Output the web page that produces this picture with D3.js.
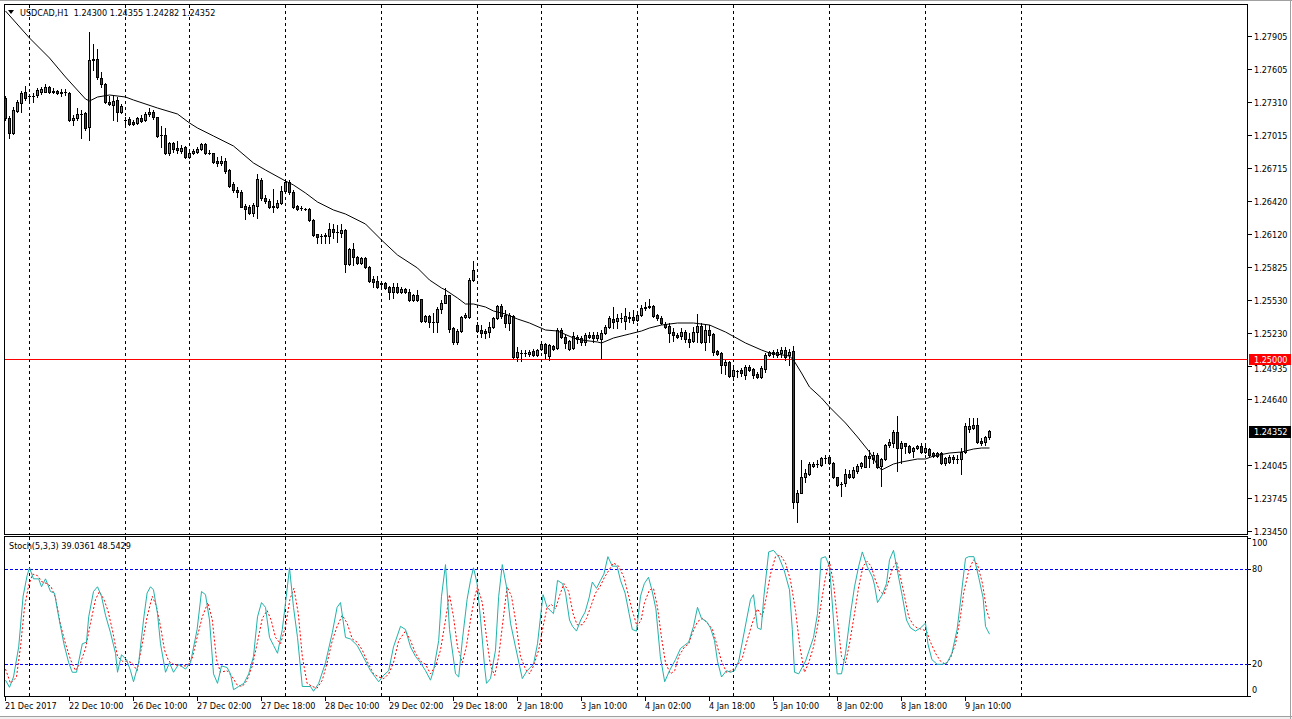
<!DOCTYPE html>
<html><head><meta charset="utf-8">
<script src="https://cdn.jsdelivr.net/npm/d3@7"></script>
<style>
html,body{margin:0;padding:0;background:#fff;overflow:hidden}
svg{display:block}
text{font-family:"DejaVu Sans Condensed","DejaVu Sans",sans-serif;font-stretch:condensed;font-size:9px;fill:#000}
</style></head><body>
<svg id="c" width="1292" height="719"></svg>
<script>
const open=[1.27347,1.27167,1.27032,1.27230,1.27302,1.27401,1.27365,1.27365,1.27374,1.27401,
1.27401,1.27446,1.27410,1.27410,1.27392,1.27401,1.27392,1.27149,1.27167,1.27203,
1.27212,1.27086,1.27689,1.27698,1.27527,1.27473,1.27311,1.27284,1.27329,1.27221,
1.27149,1.27158,1.27131,1.27122,1.27167,1.27149,1.27203,1.27221,1.27176,1.27014,
1.27014,1.26852,1.26942,1.26897,1.26870,1.26906,1.26816,1.26852,1.26861,1.26888,
1.26933,1.26852,1.26852,1.26780,1.26762,1.26780,1.26699,1.26573,1.26519,1.26501,
1.26375,1.26366,1.26312,1.26375,1.26609,1.26447,1.26420,1.26366,1.26366,1.26402,
1.26510,1.26591,1.26501,1.26375,1.26357,1.26348,1.26348,1.26249,1.26123,1.26105,
1.26114,1.26105,1.26168,1.26141,1.26132,1.26159,1.25853,1.25988,1.25916,1.25862,
1.25907,1.25826,1.25718,1.25700,1.25682,1.25682,1.25646,1.25601,1.25646,1.25601,
1.25628,1.25601,1.25529,1.25574,1.25538,1.25340,1.25385,1.25331,1.25331,1.25448,
1.25502,1.25574,1.25277,1.25151,1.25250,1.25376,1.25376,1.25709,1.25304,1.25259,
1.25250,1.25241,1.25286,1.25367,1.25475,1.25394,1.25322,1.25385,1.25016,1.25052,
1.25052,1.25043,1.25070,1.25034,1.25088,1.25133,1.25025,1.25115,1.25097,1.25259,
1.25196,1.25088,1.25097,1.25196,1.25187,1.25151,1.25214,1.25214,1.25187,1.25178,
1.25232,1.25286,1.25358,1.25340,1.25367,1.25340,1.25376,1.25376,1.25349,1.25394,
1.25457,1.25466,1.25475,1.25394,1.25367,1.25313,1.25295,1.25241,1.25214,1.25205,
1.25241,1.25178,1.25160,1.25241,1.25295,1.25151,1.25259,1.25223,1.25070,1.25052,
1.24944,1.24971,1.24845,1.24890,1.24899,1.24854,1.24926,1.24908,1.24863,1.24836,
1.24908,1.25034,1.25043,1.25034,1.25052,1.25079,1.25034,1.25070,1.23711,1.23792,
1.23936,1.23963,1.24035,1.24053,1.24044,1.24107,1.24116,1.24062,1.23936,1.23873,
1.23882,1.23963,1.23936,1.23990,1.24035,1.24026,1.24125,1.24098,1.24134,1.24035,
1.24098,1.24224,1.24242,1.24341,1.24197,1.24242,1.24215,1.24170,1.24197,1.24215,
1.24161,1.24188,1.24152,1.24125,1.24152,1.24062,1.24071,1.24116,1.24098,1.24098,
1.24161,1.24368,1.24377,1.24404,1.24260,1.24251,1.24300];
const high=[1.27365,1.27185,1.27266,1.27329,1.27410,1.27455,1.27383,1.27392,1.27437,1.27446,
1.27473,1.27455,1.27437,1.27419,1.27428,1.27428,1.27401,1.27194,1.27257,1.27239,
1.27221,1.27941,1.27833,1.27788,1.27581,1.27482,1.27365,1.27365,1.27356,1.27293,
1.27176,1.27176,1.27149,1.27176,1.27194,1.27221,1.27257,1.27239,1.27176,1.27095,
1.27077,1.26951,1.26951,1.26960,1.26924,1.26915,1.26879,1.26888,1.26906,1.26942,
1.26942,1.26879,1.26852,1.26816,1.26825,1.26807,1.26708,1.26591,1.26546,1.26519,
1.26393,1.26384,1.26402,1.26663,1.26627,1.26474,1.26438,1.26528,1.26429,1.26555,
1.26609,1.26609,1.26519,1.26384,1.26375,1.26357,1.26357,1.26258,1.26123,1.26123,
1.26132,1.26222,1.26213,1.26204,1.26213,1.26168,1.25997,1.26042,1.25925,1.25916,
1.25916,1.25835,1.25745,1.25745,1.25691,1.25691,1.25655,1.25682,1.25682,1.25646,
1.25637,1.25628,1.25583,1.25619,1.25538,1.25394,1.25394,1.25412,1.25466,1.25529,
1.25637,1.25574,1.25286,1.25268,1.25385,1.25412,1.25727,1.25880,1.25331,1.25304,
1.25268,1.25331,1.25376,1.25484,1.25493,1.25439,1.25412,1.25394,1.25106,1.25079,
1.25079,1.25079,1.25088,1.25088,1.25151,1.25142,1.25133,1.25124,1.25277,1.25277,
1.25223,1.25169,1.25241,1.25214,1.25205,1.25232,1.25241,1.25241,1.25241,1.25259,
1.25304,1.25385,1.25466,1.25403,1.25412,1.25457,1.25421,1.25439,1.25421,1.25484,
1.25511,1.25538,1.25484,1.25403,1.25385,1.25331,1.25322,1.25277,1.25232,1.25277,
1.25259,1.25232,1.25286,1.25403,1.25322,1.25304,1.25304,1.25232,1.25079,1.25061,
1.24989,1.24980,1.24917,1.24899,1.24917,1.24944,1.24944,1.24917,1.24881,1.24935,
1.25052,1.25070,1.25079,1.25088,1.25106,1.25106,1.25088,1.25115,1.23819,1.24089,
1.24008,1.24071,1.24071,1.24089,1.24116,1.24134,1.24125,1.24071,1.23936,1.23891,
1.24008,1.23999,1.24026,1.24053,1.24071,1.24134,1.24179,1.24161,1.24152,1.24107,
1.24233,1.24278,1.24359,1.24485,1.24260,1.24242,1.24224,1.24206,1.24224,1.24242,
1.24224,1.24197,1.24161,1.24161,1.24161,1.24116,1.24134,1.24134,1.24134,1.24197,
1.24422,1.24467,1.24467,1.24467,1.24287,1.24305,1.24355];
const low=[1.27149,1.26987,1.27023,1.27221,1.27221,1.27329,1.27329,1.27311,1.27356,1.27383,
1.27401,1.27392,1.27392,1.27383,1.27365,1.27374,1.27140,1.27104,1.27149,1.26987,
1.27059,1.26969,1.27599,1.27518,1.27446,1.27302,1.27284,1.27149,1.27140,1.27212,
1.27095,1.27104,1.27104,1.27113,1.27131,1.27140,1.27185,1.27158,1.26996,1.26906,
1.26843,1.26834,1.26861,1.26852,1.26852,1.26807,1.26807,1.26843,1.26852,1.26879,
1.26843,1.26843,1.26762,1.26735,1.26744,1.26672,1.26546,1.26501,1.26456,1.26366,
1.26258,1.26303,1.26285,1.26267,1.26429,1.26402,1.26357,1.26321,1.26357,1.26393,
1.26492,1.26483,1.26357,1.26339,1.26339,1.26339,1.26240,1.26105,1.26042,1.26042,
1.26042,1.26042,1.26087,1.26051,1.26096,1.25781,1.25844,1.25844,1.25853,1.25853,
1.25817,1.25691,1.25646,1.25637,1.25655,1.25628,1.25538,1.25547,1.25592,1.25592,
1.25592,1.25520,1.25520,1.25520,1.25331,1.25331,1.25286,1.25241,1.25241,1.25412,
1.25502,1.25241,1.25133,1.25133,1.25241,1.25367,1.25367,1.25700,1.25241,1.25196,
1.25187,1.25196,1.25277,1.25358,1.25367,1.25286,1.25259,1.25007,1.24980,1.24980,
1.25025,1.25025,1.25025,1.25025,1.25079,1.25007,1.24989,1.25079,1.25088,1.25187,
1.25097,1.25079,1.25088,1.25142,1.25124,1.25124,1.25187,1.25151,1.25169,1.25007,
1.25223,1.25277,1.25277,1.25277,1.25331,1.25268,1.25331,1.25322,1.25340,1.25385,
1.25439,1.25457,1.25376,1.25349,1.25313,1.25277,1.25151,1.25160,1.25187,1.25178,
1.25151,1.25106,1.25151,1.25151,1.25142,1.25079,1.25151,1.25034,1.25034,1.24872,
1.24863,1.24836,1.24809,1.24836,1.24845,1.24818,1.24890,1.24827,1.24827,1.24827,
1.24881,1.25025,1.25016,1.25016,1.25016,1.24989,1.24944,1.23657,1.23531,1.23792,
1.23891,1.23954,1.24026,1.24026,1.24035,1.24062,1.24053,1.23927,1.23855,1.23765,
1.23855,1.23927,1.23927,1.23972,1.24017,1.24026,1.24026,1.24062,1.24017,1.23855,
1.24089,1.24206,1.24206,1.23990,1.24062,1.24152,1.24152,1.24116,1.24188,1.24152,
1.24152,1.24125,1.24116,1.24116,1.24053,1.24044,1.24062,1.24062,1.24062,1.23963,
1.24152,1.24341,1.24368,1.24242,1.24224,1.24224,1.24282];
const close=[1.27167,1.27032,1.27239,1.27311,1.27392,1.27347,1.27365,1.27365,1.27419,1.27428,
1.27446,1.27401,1.27401,1.27392,1.27401,1.27401,1.27149,1.27167,1.27203,1.27203,
1.27077,1.27689,1.27698,1.27536,1.27473,1.27311,1.27293,1.27320,1.27221,1.27275,
1.27149,1.27113,1.27113,1.27167,1.27140,1.27203,1.27221,1.27176,1.27005,1.27014,
1.26852,1.26942,1.26888,1.26879,1.26897,1.26816,1.26852,1.26870,1.26888,1.26933,
1.26852,1.26852,1.26771,1.26762,1.26780,1.26690,1.26555,1.26519,1.26501,1.26366,
1.26348,1.26312,1.26384,1.26618,1.26447,1.26420,1.26366,1.26375,1.26402,1.26510,
1.26591,1.26501,1.26366,1.26348,1.26357,1.26348,1.26249,1.26114,1.26096,1.26105,
1.26105,1.26168,1.26141,1.26141,1.26159,1.25853,1.25988,1.25916,1.25862,1.25907,
1.25826,1.25700,1.25691,1.25646,1.25673,1.25637,1.25601,1.25646,1.25601,1.25628,
1.25601,1.25529,1.25574,1.25529,1.25340,1.25385,1.25331,1.25331,1.25448,1.25502,
1.25574,1.25268,1.25151,1.25250,1.25376,1.25394,1.25709,1.25799,1.25250,1.25232,
1.25232,1.25286,1.25367,1.25475,1.25385,1.25322,1.25394,1.25016,1.25061,1.25052,
1.25052,1.25061,1.25034,1.25079,1.25133,1.25052,1.25124,1.25088,1.25259,1.25196,
1.25142,1.25160,1.25205,1.25178,1.25151,1.25214,1.25196,1.25187,1.25214,1.25232,
1.25286,1.25367,1.25331,1.25367,1.25367,1.25385,1.25367,1.25349,1.25394,1.25457,
1.25466,1.25475,1.25385,1.25367,1.25322,1.25286,1.25232,1.25214,1.25196,1.25241,
1.25178,1.25151,1.25241,1.25295,1.25151,1.25259,1.25214,1.25061,1.25043,1.24944,
1.24971,1.24845,1.24899,1.24890,1.24872,1.24926,1.24899,1.24854,1.24836,1.24917,
1.25034,1.25061,1.25061,1.25061,1.25079,1.25016,1.25061,1.23711,1.23792,1.23936,
1.23972,1.24053,1.24053,1.24053,1.24107,1.24107,1.24062,1.23936,1.23864,1.23873,
1.23963,1.23936,1.23999,1.24035,1.24062,1.24125,1.24107,1.24134,1.24026,1.24098,
1.24224,1.24251,1.24341,1.24197,1.24242,1.24215,1.24161,1.24197,1.24215,1.24161,
1.24197,1.24134,1.24125,1.24152,1.24062,1.24107,1.24116,1.24098,1.24098,1.24161,
1.24395,1.24395,1.24404,1.24251,1.24242,1.24296,1.24352];

// moving average: [bar, value]
const maPoints=[[0,1.28130],[6,1.27887],[11,1.27707],[15,1.27536],[20,1.27338],[21,1.27320],[23,1.27356],[26,1.27374],[30,1.27356],[32,1.27329],[38,1.27257],[43,1.27203],[46,1.27122],[48,1.27077],[52,1.27005],[57,1.26915],[62,1.26762],[65,1.26699],[70,1.26600],[72,1.26564],[75,1.26492],[78,1.26411],[82,1.26339],[85,1.26303],[90,1.26213],[94,1.26069],[98,1.25934],[103,1.25817],[106,1.25709],[109,1.25637],[110,1.25619],[113,1.25547],[115,1.25493],[117,1.25493],[120,1.25466],[122,1.25430],[125,1.25403],[128,1.25358],[131,1.25322],[135,1.25259],[138,1.25250],[142,1.25187],[144,1.25169],[148,1.25151],[149,1.25142],[152,1.25187],[156,1.25223],[159,1.25250],[161,1.25277],[164,1.25304],[168,1.25322],[172,1.25322],[176,1.25304],[180,1.25241],[185,1.25142],[189,1.25079],[191,1.25052],[196,1.25025],[197,1.24989],[199,1.24872],[201,1.24746],[204,1.24647],[206,1.24566],[210,1.24422],[213,1.24296],[216,1.24161],[218,1.24044],[219,1.23999],[222,1.24053],[224,1.24071],[228,1.24098],[230,1.24098],[232,1.24125],[236,1.24152],[239,1.24161],[242,1.24188],[244,1.24197],[246,1.24197]];

// stochastic main (%K) and signal (%D): [bar, value]
const stochMain=[[0,10],[1,5.5],[2,12],[3.3,31],[4.4,63],[5.4,76],[6,81],[7,74],[8.3,74],[9,69],[10,74],[11.25,66],[12.25,65],[13.3,50],[14.6,33],[15.8,21],[16.7,15],[17.75,15],[19.2,33],[20.25,34],[20.8,50],[22,66],[23,69],[24,63],[25,51],[26.25,40],[27.5,27],[28,15],[29,26],[30.25,23],[31.25,16],[32,9],[33.3,21],[34.6,50],[35.4,65],[36.25,69],[37,67],[38,52],[38.75,33],[40,15],[41,21],[42,15],[43.3,20],[45,17],[46.25,21],[47.9,42],[49,66],[50,64],[51,48],[52,14],[53,8],[54,19],[55.4,18],[56.25,14],[57,4],[58.3,6],[59.6,8],[60.8,14],[62,25],[63,50],[64,59],[65,56],[66,37],[67,32],[68,27],[69.2,42],[70.2,63],[71,81],[72,56],[73,37],[74.2,6],[76.25,6],[77,3],[78.3,8],[80,21],[81.7,40],[82.9,56],[83.75,59],[85,37],[86.25,36],[87.9,32],[89.6,24],[91.25,16],[93.3,9],[94.5,13],[95.8,16],[97,31],[98.75,44],[100,42],[101.25,31],[102.5,25],[103.75,21],[105,16],[106.25,10],[107,16],[108.3,35],[109,63],[110,83],[111,42],[112.5,14],[113.3,12],[114.2,35],[115.4,61],[116.25,73],[117,81],[117.9,71],[118.75,49],[119.75,19],[120.25,8],[121.25,11],[122.5,29],[123.3,63],[124.2,83],[125.25,69],[126.25,46],[127.5,31],[129.2,11],[130.4,16],[132,20],[133,33],[133.75,50],[134.4,64],[135.4,56],[137,52],[138,73],[139.25,71],[140,65],[141,48],[141.75,44],[142.75,41],[143.8,48],[144.9,53],[145.9,62],[146.7,72],[147.75,68],[148.75,73],[149.6,77],[150.6,88],[151.7,82],[152.9,82],[153.75,73],[154.9,65],[155.9,52],[156.7,42],[157.75,41],[158.75,63],[159.7,71],[160.75,75],[161.6,67],[162.6,55],[163.7,25],[164.8,9],[166,16],[167.5,23],[168.75,30],[169.75,32],[170.8,34],[172,44],[173,56],[174,49],[175.25,47],[176.25,43],[177.25,35],[178,22],[179,12],[180.25,16],[181.25,15],[182.25,16],[183.3,22],[184.2,34],[185.25,48],[186.25,61],[187,64],[188,43],[188.9,42],[189.6,63],[190.8,91],[192,92],[193.3,88],[194.6,80],[196,67],[196.7,42],[197.25,15],[198.3,14],[200,22],[200.8,28],[202,37],[203,52],[203.9,87],[205,88],[206,82],[207,48],[207.9,14],[209,14],[210,27],[211.25,52],[212.25,69],[213.3,82],[214.2,91],[215.4,82],[216.75,75],[217.25,70],[218,59],[219.2,64],[220.25,71],[221,86],[222,92],[222.9,80],[224.2,63],[225.25,48],[226.25,43],[227.5,41],[228.75,43],[230,46],[230.6,33],[231.6,23],[232.9,20],[234.1,20],[235.4,21],[236.6,27],[237.9,42],[238.9,63],[240,87],[240.8,88],[242.1,88],[243.3,75],[244.4,62],[245,44],[246,39.04]];
const stochSignal=[[0,17],[1.25,8],[2.75,12],[3.75,31],[4.75,56],[5.8,70],[6.8,77],[8,76],[9.2,72],[10.4,71],[11.4,69],[12.5,62],[13.75,45],[15,33],[16.25,23],[17.5,16],[18.75,21],[20,30],[21.25,46],[22.5,61],[23.5,66],[24.6,61],[25.6,54],[26.7,42],[28,25],[29.2,22],[30.4,22],[31.6,21],[32.9,16],[34.2,33],[35.4,50],[36.7,63],[37.7,57],[38.75,44],[39.75,29],[40.8,22],[42,20],[43.75,19],[45.4,19],[46.7,24],[47.9,37],[49.2,50],[50.6,59],[51.7,48],[52.75,23],[53.75,15],[55.4,16],[56.7,12],[57.9,7],[59.2,6],[60.4,10],[61.7,19],[62.9,33],[64.2,49],[65.4,54],[66.4,48],[67.5,37],[68.75,33],[70,44],[71.1,61],[72.1,68],[73.2,52],[74.2,25],[75.4,8],[76.7,6],[77.9,5],[79.2,10],[80.4,21],[81.7,35],[82.9,44],[84.2,51],[85.4,46],[86.7,36],[87.9,34],[89.2,29],[90.4,22],[92,14],[93.3,12],[94.6,11],[95.8,14],[97,21],[98.3,35],[100,41],[101.25,35],[102.5,27],[103.75,22],[105,20],[106.25,14],[107.5,19],[108.75,29],[110,48],[111,64],[112,50],[113,31],[114.2,21],[115.2,31],[116.25,48],[117.25,62],[118,69],[119.2,59],[120.25,37],[121.25,19],[122.3,13],[123.3,25],[124.4,48],[125.4,69],[126.5,63],[127.5,48],[128.75,25],[130,17],[131,14],[132,19],[133.3,29],[134.4,44],[135.4,56],[136.4,58],[137.5,55],[138.6,64],[139.6,71],[140.8,66],[141.9,52],[142.9,45],[144.2,45],[145.25,49],[146.25,56],[147.5,65],[148.6,69],[149.75,75],[151,80],[152,84],[153.3,82],[154.6,75],[155.8,63],[156.8,53],[157.9,44],[158.9,48],[159.75,59],[161,67],[162,68],[163,56],[164,37],[165,21],[166.25,14],[167.3,16],[168.3,25],[169.75,31],[170.8,33],[171.75,40],[173,47],[174.3,49],[175.5,46],[176.75,42],[178,31],[179,22],[180.25,15],[181.5,16],[182.9,19],[184.2,24],[185.4,35],[186.7,46],[188,55],[189.2,50],[190.25,63],[191.25,77],[192.5,88],[193.75,89],[195,84],[196.25,73],[197.5,54],[198.6,31],[199.75,15],[200.8,21],[202,31],[203,44],[204.2,63],[205,75],[206,85],[207,71],[208,48],[209,25],[210,21],[211,33],[212.25,52],[213.3,69],[214.4,82],[215.4,85],[216.4,82],[217.5,73],[218.6,66],[219.6,64],[220.6,71],[221.7,80],[222.75,85],[223.75,75],[224.75,63],[225.8,50],[226.9,45],[227.9,43],[229.2,42],[230.25,41],[231.25,34],[232.5,27],[233.75,22],[235,20],[236.25,24],[237.5,33],[238.6,48],[239.6,66],[240.9,80],[242,86],[243,83],[244.25,71],[245.3,54],[246,48.54]];

const priceTickLabels=["1.27905","1.27605","1.27310","1.27015","1.26715","1.26420","1.26120","1.25825","1.25530","1.25230","1.24935","1.24640","1.24045","1.23745","1.23450"];
const stochLevels=[20,80];
const stochTickLabels=["100","80","20","0"];
const timeLabels=["21 Dec 2017","22 Dec 10:00","26 Dec 10:00","27 Dec 02:00","27 Dec 18:00","28 Dec 10:00","29 Dec 02:00","29 Dec 18:00","2 Jan 18:00","3 Jan 10:00","4 Jan 02:00","4 Jan 18:00","5 Jan 10:00","8 Jan 02:00","8 Jan 18:00","9 Jan 10:00"];
const timeLabelBars=[0,16,32,48,64,80,96,112,128,144,160,176,192,208,224,240];
const separatorBars=[6,30,46,70,94,118,134,158,182,206,230,254];
const levelLine=1.25000;
const title="USDCAD,H1  1.24300 1.24355 1.24282 1.24352";
const stochTitle="Stoch(5,3,3) 39.0361 48.5429";

// ---- layout ----
const L=4.5,R=1247.5,mTop=4.5,mBot=534.5,sTop=536.5,sBot=696.5;
const svg=d3.select("#c");
const x=d3.scaleLinear().domain([0,310.5]).range([5,1247]);
const y=d3.scaleLinear().domain([1.23423,1.28193]).range([534,4]);
const ys=d3.scaleLinear().domain([0,100]).range([696,537.67]);
const px=v=>Math.round(x(v));

// window chrome
svg.append("rect").attr("x",0).attr("y",0).attr("width",1292).attr("height",719).attr("fill","#fff");
svg.append("rect").attr("x",0).attr("y",716).attr("width",1292).attr("height",3).attr("fill","#f0f0f0");
svg.append("line").attr("x1",0).attr("x2",1292).attr("y1",716.5).attr("y2",716.5).attr("stroke","#a0a0a0");
svg.append("line").attr("x1",0).attr("x2",1292).attr("y1",0.5).attr("y2",0.5).attr("stroke","#a0a0a0");
svg.append("line").attr("x1",1290.5).attr("x2",1290.5).attr("y1",0).attr("y2",719).attr("stroke","#a0a0a0");

const main=svg.append("g").attr("shape-rendering","crispEdges");
// separators
const seps=svg.append("g").attr("shape-rendering","crispEdges");
separatorBars.forEach(b=>{
  const xx=px(b)+0.5;
  if(xx>R) return;
  seps.append("line").attr("x1",xx).attr("x2",xx).attr("y1",mTop).attr("y2",mBot).attr("stroke","#000").attr("stroke-dasharray","3,3");
  seps.append("line").attr("x1",xx).attr("x2",xx).attr("y1",sTop).attr("y2",sBot).attr("stroke","#000").attr("stroke-dasharray","3,3");
});
// level line 1.25
main.append("line").attr("x1",L).attr("x2",R).attr("y1",Math.round(y(levelLine))+0.5).attr("y2",Math.round(y(levelLine))+0.5).attr("stroke","#ff0000");

// candles
const cg=svg.append("g").attr("shape-rendering","crispEdges");
open.forEach((o,i)=>{
  const cx=px(i), c=close[i];
  const yh=Math.round(y(high[i])), yl=Math.round(y(low[i]));
  const yo=Math.round(y(o)), yc=Math.round(y(c));
  cg.append("line").attr("x1",cx+0.5).attr("x2",cx+0.5).attr("y1",yh).attr("y2",yl+1).attr("stroke","#000");
  const top=Math.min(yo,yc), bot=Math.max(yo,yc);
  if(bot-top<1){
    cg.append("line").attr("x1",cx-1).attr("x2",cx+2).attr("y1",top+0.5).attr("y2",top+0.5).attr("stroke","#000");
  } else {
    cg.append("rect").attr("x",cx-0.5).attr("y",top+0.5).attr("width",2).attr("height",bot-top)
      .attr("fill",c>o?"#00d000":"#e00000").attr("stroke","#000");
  }
});
// MA
svg.append("path").datum(maPoints).attr("fill","none").attr("stroke","#000").attr("stroke-width",1)
  .attr("d",d3.line().x(d=>x(d[0])+0.5).y(d=>y(d[1])));

// frames
svg.append("rect").attr("x",L).attr("y",mTop).attr("width",R-L).attr("height",mBot-mTop).attr("fill","none").attr("stroke","#000").attr("shape-rendering","crispEdges");
svg.append("rect").attr("x",L).attr("y",sTop).attr("width",R-L).attr("height",sBot-sTop).attr("fill","none").attr("stroke","#000").attr("shape-rendering","crispEdges");

// price axis
const ax=svg.append("g");
const yl25=Math.round(y(levelLine));
priceTickLabels.forEach(t=>{
  const yy=Math.round(y(+t))+0.5;
  ax.append("line").attr("x1",R).attr("x2",R+4).attr("y1",yy).attr("y2",yy).attr("stroke","#000").attr("shape-rendering","crispEdges");
  // the label just under the 1.25000 marker is nudged down so both stay readable
  const shift=(Math.abs(yy-yl25)<12)?2:0;
  ax.append("text").attr("x",1254).attr("y",yy+shift).attr("dy","0.35em").text(t);
});
// level label
ax.append("rect").attr("x",1249).attr("y",yl25-5).attr("width",42).attr("height",11).attr("fill","#ff0000");
ax.append("text").attr("x",1254).attr("y",yl25+0.5).attr("dy","0.35em").style("fill","#fff").text(levelLine.toFixed(5));
// current price label
const last=close[close.length-1];
const ylast=Math.round(y(last));
ax.append("rect").attr("x",1249).attr("y",ylast-5).attr("width",42).attr("height",12).attr("fill","#000");
ax.append("text").attr("x",1254).attr("y",ylast+1).attr("dy","0.35em").style("fill","#fff").text(last.toFixed(5));

// stochastic levels
stochLevels.forEach(v=>{
  const yy=Math.round(ys(v))+0.5;
  svg.append("line").attr("x1",L).attr("x2",R).attr("y1",yy).attr("y2",yy).attr("stroke","#0000ff").attr("stroke-dasharray","3,2").attr("shape-rendering","crispEdges");
});
stochTickLabels.forEach(t=>{
  const v=+t; let yy=ys(v);
  if(v===100) yy+=5; if(v===0) yy-=6.5;
  svg.append("text").attr("x",1252).attr("y",yy).attr("dy","0.35em").text(t);
  svg.append("line").attr("x1",R).attr("x2",R+3).attr("y1",Math.round(ys(v))+0.5).attr("y2",Math.round(ys(v))+0.5).attr("stroke","#000").attr("shape-rendering","crispEdges");
});
svg.append("path").datum(stochSignal).attr("fill","none").attr("stroke","#ff0000").attr("stroke-dasharray","2,2")
  .attr("d",d3.line().x(d=>x(d[0])+0.5).y(d=>ys(d[1])));
svg.append("path").datum(stochMain).attr("fill","none").attr("stroke","#20b2aa")
  .attr("d",d3.line().x(d=>x(d[0])+0.5).y(d=>ys(d[1])));

// time axis
timeLabels.forEach((t,k)=>{
  const xx=px(timeLabelBars[k]);
  svg.append("line").attr("x1",xx+0.5).attr("x2",xx+0.5).attr("y1",sBot).attr("y2",sBot+4).attr("stroke","#000").attr("shape-rendering","crispEdges");
  svg.append("text").attr("x",xx).attr("y",709).text(t);
});

// titles
svg.append("path").attr("d","M8,10 L14,10 L11,14 Z").attr("fill","#000");
svg.append("text").attr("x",20).attr("y",16).text(title).style("white-space","pre");
svg.append("text").attr("x",9).attr("y",549).text(stochTitle);
</script>
</body></html>
